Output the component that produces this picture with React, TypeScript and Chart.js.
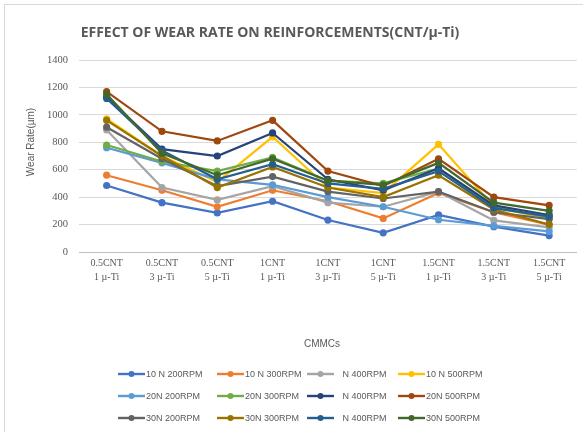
import React, { useEffect, useRef } from "react";
import { Chart, registerables } from "chart.js";

Chart.register(...registerables);

const TITLE = "EFFECT OF WEAR RATE ON REINFORCEMENTS(CNT/µ-Ti)";
const Y_TITLE = "Wear Rate(µm)";
const X_TITLE = "CMMCs";

const categoriesTop = ["0.5CNT", "0.5CNT", "0.5CNT", "1CNT", "1CNT", "1CNT", "1.5CNT", "1.5CNT", "1.5CNT"];
const categoriesBottom = ["1 µ-Ti", "3 µ-Ti", "5 µ-Ti", "1 µ-Ti", "3 µ-Ti", "5 µ-Ti", "1 µ-Ti", "3 µ-Ti", "5 µ-Ti"];

const seriesNames = [
  "10 N 200RPM", "10 N 300RPM", "   N 400RPM", "10 N 500RPM",
  "20N 200RPM", "20N 300RPM", "   N 400RPM", "20N 500RPM",
  "30N 200RPM", "30N 300RPM", "   N 400RPM", "30N 500RPM",
];

const s10N200 = [485, 360, 285, 370, 233, 140, 270, 185, 120];
const s10N300 = [560, 450, 330, 450, 370, 245, 430, 290, 200];
const s10N400 = [890, 470, 380, 480, 360, 330, 440, 230, 180];
const s10N500 = [970, 700, 510, 840, 470, 430, 785, 330, 240];
const s20N200 = [760, 650, 530, 490, 400, 330, 235, 190, 150];
const s20N300 = [780, 660, 590, 690, 520, 500, 610, 330, 250];
const s20N400 = [1130, 750, 700, 868, 530, 450, 610, 340, 270];
const s20N500 = [1170, 880, 810, 960, 590, 480, 680, 400, 340];
const s30N200 = [910, 680, 480, 550, 440, 390, 440, 290, 240];
const s30N300 = [960, 700, 470, 620, 470, 400, 560, 310, 200];
const s30N400 = [1120, 740, 530, 640, 500, 460, 590, 320, 260];
const s30N500 = [1150, 720, 560, 680, 520, 490, 650, 360, 300];

const seriesValues = [
  s10N200, s10N300, s10N400, s10N500,
  s20N200, s20N300, s20N400, s20N500,
  s30N200, s30N300, s30N400, s30N500,
];

const seriesColors = [
  "#4472C4", "#ED7D31", "#A5A5A5", "#FFC000",
  "#5B9BD5", "#70AD47", "#264478", "#9E480E",
  "#636363", "#997300", "#255E91", "#43682B",
];

const Y_MIN = 0;
const Y_MAX = 1400;
const Y_STEP = 200;

const TEXT_COLOR = "#595959";
const LEGEND_COL_X = [118, 217, 307, 398];
const LEGEND_ROW_Y = [374, 396, 418];

const decorPlugin = {
  id: "decor",
  afterDraw(chart: any) {
    const ctx = chart.ctx as CanvasRenderingContext2D;
    ctx.save();
    // outer frame
    ctx.strokeStyle = "#d9d9d9";
    ctx.lineWidth = 1;
    ctx.strokeRect(4.5, 4.5, 700, 600);

    // title
    ctx.fillStyle = TEXT_COLOR;
    ctx.textAlign = "center";
    ctx.textBaseline = "middle";
    ctx.font = "bold 14px 'Open Sans'";
    ctx.fillText(TITLE, 270, 33);

    // y axis title
    ctx.save();
    ctx.translate(31, 142);
    ctx.rotate(-Math.PI / 2);
    ctx.font = "10px 'Liberation Sans'";
    ctx.fillText(Y_TITLE, 0, 0);
    ctx.restore();

    // x axis title
    ctx.font = "10px 'Liberation Sans'";
    ctx.fillText(X_TITLE, 322, 344);

    // legend
    ctx.textAlign = "left";
    chart.data.datasets.forEach((ds: any, i: number) => {
      const x = LEGEND_COL_X[i % 4];
      const y = LEGEND_ROW_Y[Math.floor(i / 4)];
      ctx.strokeStyle = ds.borderColor;
      ctx.lineWidth = 2.4;
      ctx.beginPath();
      ctx.moveTo(x, y);
      ctx.lineTo(x + 27, y);
      ctx.stroke();
      ctx.fillStyle = ds.borderColor;
      ctx.beginPath();
      ctx.arc(x + 13.5, y, 3, 0, Math.PI * 2);
      ctx.fill();
      ctx.fillStyle = TEXT_COLOR;
      ctx.font = "9px 'Liberation Sans'";
      ctx.fillText(ds.label, x + 28, y + 0.5);
    });
    ctx.restore();
  },
};

export default function App() {
  const ref = useRef<HTMLCanvasElement | null>(null);

  useEffect(() => {
    if (!ref.current) return;
    const labels = categoriesTop.map((t, i) => [t, categoriesBottom[i]]);
    const datasets = seriesValues.map((vals, i) => ({
      label: seriesNames[i],
      data: vals,
      borderColor: seriesColors[i],
      backgroundColor: seriesColors[i],
      pointBackgroundColor: seriesColors[i],
      pointBorderColor: seriesColors[i],
      borderWidth: 2.2,
      pointRadius: 2.5,
      tension: 0,
      order: seriesValues.length - i,
    }));
    const chart = new Chart(ref.current, {
      type: "line",
      data: { labels, datasets },
      options: {
        animation: false,
        responsive: false,
        maintainAspectRatio: false,
        layout: { padding: { top: 60, left: 0, right: 0, bottom: 0 } },
        plugins: {
          legend: { display: false },
          title: { display: false },
          tooltip: { enabled: false },
        },
        scales: {
          x: {
            offset: true,
            grid: { display: false, drawTicks: false },
            border: { color: "#bfbfbf" },
            ticks: {
              color: TEXT_COLOR,
              font: { family: "'Liberation Serif'", size: 10, lineHeight: 1.4 },
              padding: 4,
              maxRotation: 0,
              autoSkip: false,
            },
            afterFit(scale: any) {
              scale.height = 180;
            },
          },
          y: {
            min: Y_MIN,
            max: Y_MAX,
            grid: { color: "#d9d9d9", drawTicks: false },
            border: { display: false },
            ticks: {
              stepSize: Y_STEP,
              color: TEXT_COLOR,
              font: { family: "'Liberation Serif'", size: 10.5 },
              padding: 11,
              callback: (v: any) => String(v),
            },
            afterFit(scale: any) {
              scale.width = 79;
            },
          },
        },
      },
      plugins: [decorPlugin],
    });
    return () => chart.destroy();
  }, []);

  return (
    <div style={{ position: "fixed", left: 0, top: 0, width: 583, height: 432, background: "#fff" }}>
      <canvas ref={ref} width={583} height={432} style={{ display: "block", width: 583, height: 432 }} />
    </div>
  );
}
